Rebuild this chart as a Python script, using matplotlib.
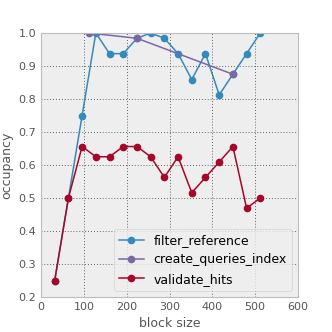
import matplotlib

matplotlib.use("Agg")
import matplotlib.pyplot as plt

block_sizes = [32, 64, 96, 128, 160, 192, 224, 256, 288, 320, 352, 384, 416, 448, 480, 512]
filter_reference = [0.25, 0.5, 0.75, 1.0, 0.9375, 0.9375, 0.984, 1.0, 0.984, 0.9375,
                    0.859, 0.9375, 0.8125, 0.875, 0.9375, 1.0]
queries_sizes = [112, 224, 448]
create_queries_index = [1.0, 0.984, 0.875]
validate_hits = [0.25, 0.5, 0.656, 0.625, 0.625, 0.656, 0.656, 0.625, 0.5625, 0.625,
                 0.516, 0.5625, 0.609, 0.656, 0.469, 0.5]

plt.style.use("bmh")
fig = plt.figure(figsize=(3.32, 3.32), dpi=100)
ax = fig.add_axes([41 / 332, 35 / 332, 257 / 332, 264 / 332])

ax.plot(block_sizes, filter_reference, "o-", color="#348ABD", lw=1.1, ms=4.5,
        label="filter_reference")
ax.plot(queries_sizes, create_queries_index, "o-", color="#7A68A6", lw=1.1, ms=4.5,
        label="create_queries_index")
ax.plot(block_sizes, validate_hits, "o-", color="#A60628", lw=1.1, ms=4.5,
        label="validate_hits")

ax.set_xlim(0, 600)
ax.set_ylim(0.2, 1.0)
ax.set_xticks(range(0, 601, 100))
ax.grid(True, color="#333333", linestyle=(0, (1, 2.5)), linewidth=0.6)
ax.set_facecolor("#eeeeee")
for s in ax.spines.values():
    s.set_color("#bcbcbc")
ax.tick_params(labelsize=8, colors="#555555", length=0)
ax.set_xlabel("block size", fontsize=9, color="#555555")
ax.set_ylabel("occupancy", fontsize=9, color="#555555")
ax.legend(loc="lower right", fontsize=9, frameon=True, borderaxespad=0.5)

fig.savefig("out.png", dpi=100)
